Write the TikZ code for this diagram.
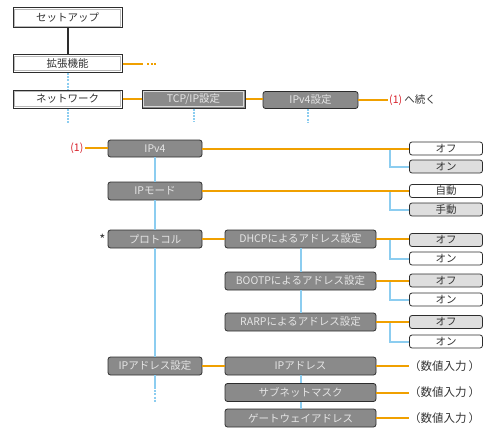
\documentclass[tikz,border=0pt]{standalone}
\usepackage{fontspec}
\setmainfont{Noto Sans CJK JP}
\usetikzlibrary{positioning}

\definecolor{lineorange}{RGB}{240,160,0}
\definecolor{lineblue}{RGB}{140,205,240}
\definecolor{boxgray}{RGB}{138,138,138}
\definecolor{boxedge}{RGB}{45,45,45}
\definecolor{optfill}{RGB}{222,222,222}
\definecolor{numred}{RGB}{215,30,40}

\begin{document}
\begin{tikzpicture}[x=1pt,y=-1pt,font=\fontsize{10.5}{12}\selectfont]
		\tikzstyle{menu} = [rectangle, minimum width=109pt, minimum height=18pt, inner sep=0pt,
		text centered, draw=boxedge, line width=1pt, fill=white, text=black!80,
		path picture={\draw[gray!55, line width=1pt] ([shift={(1.8pt,-1.8pt)}]path picture bounding box.north west)
		rectangle ([shift={(-1.8pt,1.8pt)}]path picture bounding box.south east);}]
		\tikzstyle{menugray} = [rectangle, minimum width=109pt, minimum height=18pt, inner sep=0pt,
		text centered, draw=boxedge, line width=1pt, fill=boxgray, text=white!90!black,
		path picture={\draw[gray!30, line width=1pt] ([shift={(1.8pt,-1.8pt)}]path picture bounding box.north west)
		rectangle ([shift={(-1.8pt,1.8pt)}]path picture bounding box.south east);}]
		\tikzstyle{item} = [rectangle, rounded corners=2.5pt, minimum height=18pt, inner sep=0pt,
		text centered, draw=boxedge, line width=0.8pt, fill=boxgray, text=white!90!black]
		\tikzstyle{opt} = [rectangle, rounded corners=2.5pt, minimum width=73pt, minimum height=13pt,
		inner sep=0pt, text centered, draw=boxedge, line width=0.8pt, fill=white, text=black!80]
		\tikzstyle{optshade} = [opt, fill=optfill]
		\tikzstyle{value} = [anchor=west, inner sep=0pt, text=black!80, font=\fontsize{11.5}{13}\selectfont]
		\tikzstyle{black line} = [boxedge, line width=2pt]
		\tikzstyle{orange line} = [lineorange, line width=2pt]
		\tikzstyle{blue line} = [lineblue, line width=2pt]
		\tikzstyle{blue dash} = [blue line, dash pattern=on 2pt off 1.2pt]
		\useasboundingbox (0,0) rectangle (500,436);
		% top of the menu
		\node (setup) [menu, minimum height=20pt] at (67.5,18) {セットアップ};
		\node (extended) [menu] at (67.5,63.5) {拡張機能};
		\node (network) [menu] at (67.5,99) {ネットワーク};
		\node (tcpip) [menugray, minimum width=103pt] at (193.5,99) {TCP/IP設定};
		\node (ipv4set) [item, minimum width=95pt, minimum height=17pt] at (310.5,100) {IPv4設定};
		\node (cont) [anchor=west, inner sep=1.5pt, text=black!80] at (387.5,100) {\textcolor{numred}{(1)} へ続く};
		\coordinate (moreEnd) at (143,63.5);
		\coordinate (moreA) at (147,63.5);
		\coordinate (moreB) at (157,63.5);
		\coordinate (netEnd) at (67.5,124);
		\coordinate (tcpEnd) at (193.5,122);
		\coordinate (ipv4setEnd) at (308,123);
		% IPv4 settings
		\node (ref1) [anchor=east, inner sep=1.5pt, text=numred] at (85,148) {(1)};
		\node (ipv4) [item, minimum width=94pt, minimum height=17pt] at (155,148.5) {IPv4};
		\node (ipmode) [item, minimum width=94pt] at (155,191) {IPモード};
		\node (protocol) [item, minimum width=94pt] at (155,239) {プロトコル};
		\node (star) [inner sep=0pt, text=black!80, font=\fontsize{13}{14}\selectfont] at (102.5,239.5) {*};
		\node (ipaddrset) [item, minimum width=94pt] at (155,366) {IPアドレス設定};
		\node (dhcp) [item, minimum width=151pt] at (300.5,239) {DHCPによるアドレス設定};
		\node (bootp) [item, minimum width=151pt] at (300.5,281) {BOOTPによるアドレス設定};
		\node (rarp) [item, minimum width=151pt] at (300.5,322) {RARPによるアドレス設定};
		\node (ipaddr) [item, minimum width=151pt] at (300.5,366) {IPアドレス};
		\node (subnet) [item, minimum width=151pt] at (300.5,392.5) {サブネットマスク};
		\node (gateway) [item, minimum width=151pt] at (300.5,418) {ゲートウェイアドレス};
		\coordinate (setEndA) at (155,387);
		\coordinate (setEndB) at (155,402);
		\coordinate (branch) at (390,0);
		% choices
		\node (ipv4off) [opt] at (446,148.5) {オフ};
		\node (ipv4on) [optshade] at (446,166.5) {オン};
		\node (auto) [opt] at (446,191) {自動};
		\node (manual) [optshade] at (446,209.5) {手動};
		\node (dhcpoff) [optshade] at (446,240) {オフ};
		\node (dhcpon) [opt] at (446,258.5) {オン};
		\node (bootpoff) [optshade] at (446,280.5) {オフ};
		\node (bootpon) [opt] at (446,299.5) {オン};
		\node (rarpoff) [optshade] at (446,322) {オフ};
		\node (rarpon) [opt] at (446,341.5) {オン};
		\node (ipaddrval) [value] at (409,366) {（数値入力\hspace{2pt}）};
		\node (subnetval) [value] at (409,392.5) {（数値入力\hspace{2pt}）};
		\node (gatewayval) [value] at (409,418) {（数値入力\hspace{2pt}）};
		% connectors
		\draw [black line] (setup) -- (extended);
		\draw [blue dash] (extended) -- (network);
		\draw [blue dash] (network.south) -- (netEnd);
		\draw [blue dash] (tcpip.south) -- (tcpEnd);
		\draw [blue dash] (ipv4set.south -| ipv4setEnd) -- (ipv4setEnd);
		\draw [orange line] (extended.east) -- (moreEnd);
		\draw [orange line, dash pattern=on 2pt off 1.6pt] (moreA) -- (moreB);
		\draw [orange line] (network) -- (tcpip);
		\draw [orange line] (tcpip) -- (ipv4set.west |- tcpip);
		\draw [orange line] (ipv4set.east) -- (cont.west);
		\draw [orange line] (ref1.east) -- (ipv4.west |- ref1.east);
		\draw [blue line] (ipv4) -- (ipmode);
		\draw [blue line] (ipmode) -- (protocol);
		\draw [blue line] (protocol) -- (ipaddrset);
		\draw [blue line] (ipaddrset.south) -- (setEndA);
		\draw [blue dash] (setEndA) -- (setEndB);
		\draw [blue line] (dhcp) -- (bootp);
		\draw [blue line] (bootp) -- (rarp);
		\draw [blue line] (ipaddr) -- (subnet);
		\draw [blue line] (subnet) -- (gateway);
		\draw [orange line] (protocol) -- (dhcp);
		\draw [orange line] (ipaddrset) -- (ipaddr);
		\draw [blue line] (ipv4.east -| branch) |- (ipv4on.west);
		\draw [blue line] (ipmode.east -| branch) |- (manual.west);
		\draw [blue line] (dhcp.east -| branch) |- (dhcpon.west);
		\draw [blue line] (bootp.east -| branch) |- (bootpon.west);
		\draw [blue line] (rarp.east -| branch) |- (rarpon.west);
		\draw [orange line] (ipv4.east) -- (ipv4.east -| ipv4off.west);
		\draw [orange line] (ipmode.east) -- (ipmode.east -| auto.west);
		\draw [orange line] (dhcp.east) -- (dhcp.east -| dhcpoff.west);
		\draw [orange line] (bootp.east) -- (bootp.east -| bootpoff.west);
		\draw [orange line] (rarp.east) -- (rarp.east -| rarpoff.west);
		\draw [orange line] (ipaddr.east) -- (ipaddrval.west);
		\draw [orange line] (subnet.east) -- (subnetval.west);
		\draw [orange line] (gateway.east) -- (gatewayval.west);
\end{tikzpicture}
\end{document}
